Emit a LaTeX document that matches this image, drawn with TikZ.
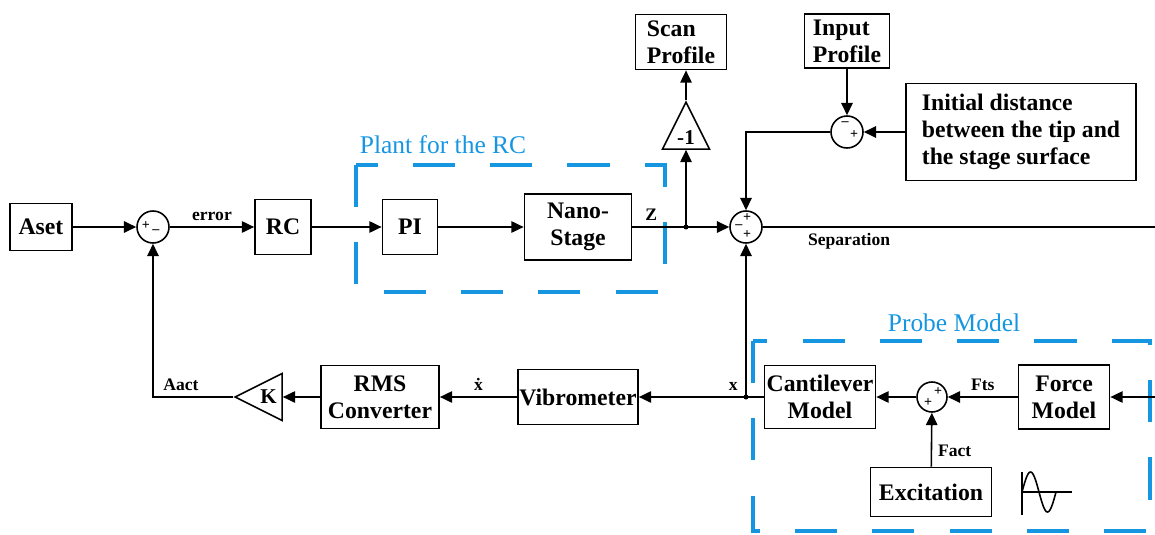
\documentclass[tikz,border=0pt]{standalone}
\usepackage{fontspec}
\setmainfont{Liberation Serif}
\usetikzlibrary{shapes.geometric,arrows.meta}
\definecolor{rcblue}{RGB}{22,150,224}
\begin{document}
\begin{tikzpicture}[x=0.02cm, y=-0.02cm, line width=0.9pt, >={Triangle[length=7pt,width=6.5pt]},
    block/.style = {draw, line width=1pt, align=center, inner sep=0pt, font=\fontsize{13.5}{15.5}\selectfont\bfseries},
    sum/.style = {draw, circle, minimum size=0.64cm, inner sep=0pt},
    sgn/.style = {font=\fontsize{8}{8}\selectfont\bfseries, inner sep=0pt},
    lbl/.style = {font=\fontsize{10}{12}\selectfont\bfseries},
    gain/.style = {draw, isosceles triangle, isosceles triangle stretches, minimum width=0.94cm, minimum height=0.94cm, inner sep=0pt, font=\fontsize{12}{12}\selectfont\bfseries},
    region/.style = {draw=rcblue, line width=2.3pt, dash pattern=on 24pt off 20pt},
    title/.style = {text=rcblue, font=\fontsize{14.5}{16}\selectfont}]
\useasboundingbox (0,0) rectangle (1155,534);
\draw[region] (356,165) rectangle (665,292);
\node[title] (plant) at (443,145) {Plant for the RC};
\draw[region] (753,341) rectangle (1150,531);
\node[title] (probe) at (954,323) {Probe Model};
\node[block, minimum width=1.24cm, minimum height=0.94cm] (aset) at (41,227) {Aset};
\node[sum] (s1) at (153,227) {};
\node[sgn] (s1p) at (146,226) {+};
\node[sgn] (s1m) at (156,232) {--};
\node[block, minimum width=1.12cm, minimum height=1.1cm] (rc) at (283,227) {RC};
\node[block, minimum width=1.1cm, minimum height=1.1cm] (pi) at (410,227) {PI};
\node[block, minimum width=2.14cm, minimum height=1.32cm] (nano) at (578,227) {Nano-\\Stage};
\coordinate (j1) at (686,227);
\node[gain, shape border rotate=90, anchor=apex] (neg) at (686,100) {-1};
\node[block, align=left, minimum width=1.82cm, minimum height=1.1cm] (scan) at (681,42) {Scan\\Profile};
\node[block, align=left, minimum width=1.7cm, minimum height=1.08cm] (input) at (847,41) {Input\\Profile};
\node[sum] (s2) at (847,132) {};
\node[sgn] (s2m) at (845,124) {--};
\node[sgn] (s2p) at (854,135) {+};
\node[block, align=left, minimum width=4.6cm, minimum height=1.94cm] (init) at (1021,132) {Initial distance\\between the tip and\\the stage surface};
\node[sum] (s3) at (746,227) {};
\node[sgn] (s3t) at (747,218) {+};
\node[sgn] (s3l) at (739,227) {--};
\node[sgn] (s3b) at (747,235) {+};
\coordinate (sepend) at (1155,227);
\coordinate (j2) at (746,397);
\node[block, minimum width=2.4cm, minimum height=1.1cm] (vib) at (578,397) {Vibrometer};
\node[block, minimum width=2.36cm, minimum height=1.26cm] (rms) at (380,397) {RMS\\Converter};
\node[gain, shape border rotate=180, anchor=apex] (k) at (233,397) {K};
\coordinate (kc) at (153,397);
\node[block, minimum width=2.22cm, minimum height=1.26cm] (cant) at (820,397) {Cantilever\\Model};
\node[sum, minimum size=0.6cm] (s4) at (932,397) {};
\node[sgn] (s4a) at (938,392) {+};
\node[sgn] (s4b) at (928,403) {+};
\node[block, minimum width=1.82cm, minimum height=1.28cm] (force) at (1064,397) {Force\\Model};
\coordinate (fin) at (1155,397);
\node[block, minimum width=2.42cm, minimum height=0.98cm] (exc) at (931,492) {Excitation};
\draw[->] (aset) -- (s1);
\draw[->] (s1) to node[lbl, above] {error} (rc);
\draw[->] (rc) -- (pi);
\draw[->] (pi) -- (nano);
\draw (nano) to node[lbl, above, pos=0.35] {Z} (j1);
\draw[->] (j1) -- (s3);
\draw[->] (j1) -- (neg);
\draw[->] (neg.apex) -- (neg.apex |- scan.south);
\draw[->] (input) -- (s2);
\draw[->] (init) -- (s2);
\draw[->] (s2) -| (s3);
\draw (s3) to node[lbl, below, pos=0.22] {Separation} (sepend);
\draw[->] (j2) -- (s3);
\draw (cant) -- (j2);
\draw[->] (j2) to node[lbl, above, pos=0.12] {x} (vib);
\draw[->] (vib) to node[lbl, above] {\.x} (rms);
\draw[->] (rms) -- (k);
\draw[->] (k.apex) to node[lbl, above, pos=0.65] {Aact} (kc) -- (s1);
\draw[->] (s4) -- (cant);
\draw[->] (force) to node[lbl, above] {Fts} (s4);
\draw[->] (fin) -- (force);
\draw[->] (exc) to node[lbl, right, pos=0.3] {Fact} (s4);
\fill (j1) circle (2.5);
\fill (j2) circle (2.5);
\draw (1022,472) -- (1022,515);
\draw (1022,492) -- (1072,492);
\draw plot[domain=0:360, samples=40, smooth] ({1022+\x/360*34}, {492-20*sin(\x)});
\end{tikzpicture}
\end{document}
